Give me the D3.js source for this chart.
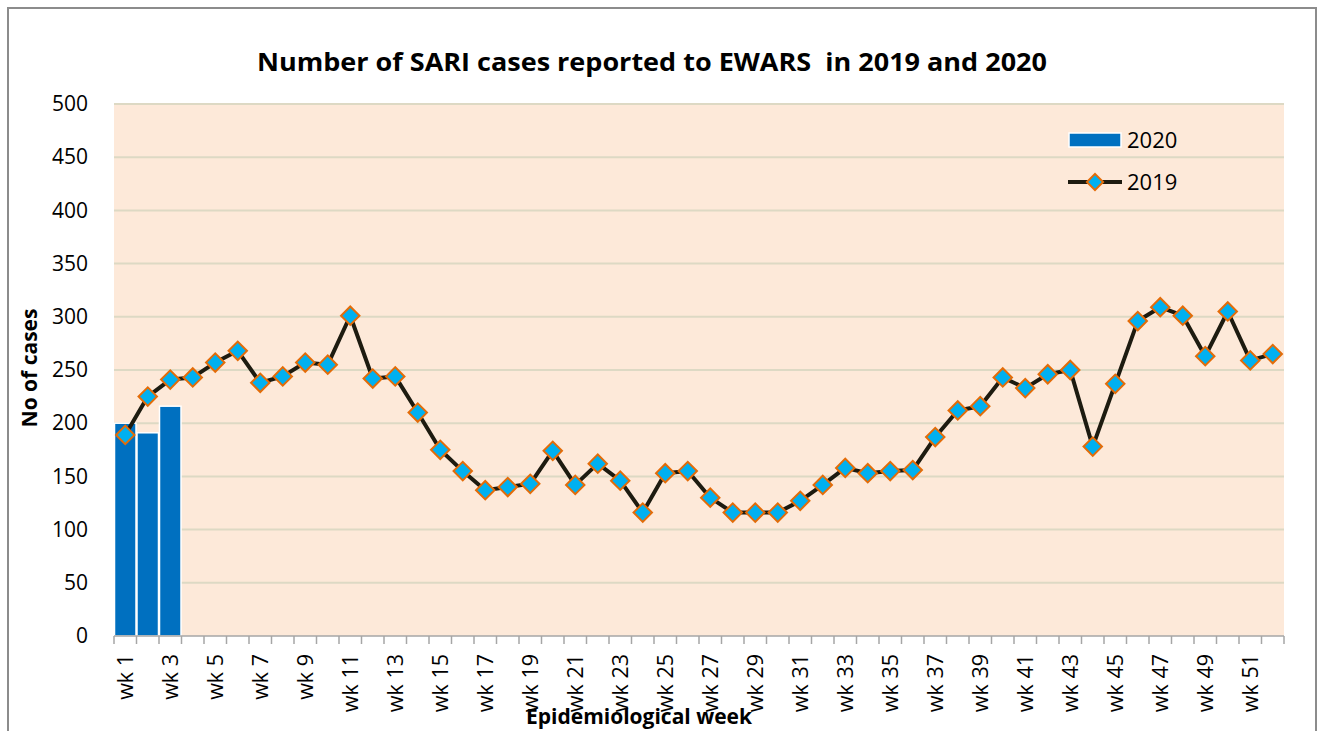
<!DOCTYPE html>
<html><head><meta charset="utf-8">
<script src="https://cdn.jsdelivr.net/npm/d3@7"></script>
<style>body{margin:0;background:#fff}svg{display:block}</style>
</head><body>
<svg id="c" width="1324" height="731"></svg>
<script>
const weeks = d3.range(1, 53).map(i => "wk " + i);
const cases2019 = [189,225,241,243,257,268,238,244,257,255,301,242,244,210,175,155,137,140,143,174,142,162,146,116,153,155,130,116,116,116,127,142,158,153,155,156,187,212,216,243,233,246,250,178,237,296,309,301,263,305,259,265];
const cases2020 = [200,191,216];
const yTicks = [0,50,100,150,200,250,300,350,400,450,500];
const labelWeeks = weeks.filter((d,i) => i % 2 === 0);
const title = "Number of SARI cases reported to EWARS  in 2019 and 2020";

const svg = d3.select("#c");
const m = {l:114, r:1284, t:104, b:636};
const font = "'Open Sans', 'Liberation Sans', sans-serif";

// outer frame
svg.append("rect").attr("x",8).attr("y",8).attr("width",1308).attr("height",740)
  .attr("fill","#fff").attr("stroke","#8c8c8c").attr("stroke-width",2);

const x = d3.scaleBand().domain(weeks).range([m.l, m.r]).paddingInner(0).paddingOuter(0);
const y = d3.scaleLinear().domain([0,500]).range([m.b, m.t]);

// plot background
svg.append("rect").attr("x",m.l).attr("y",m.t).attr("width",m.r-m.l).attr("height",m.b-m.t).attr("fill","#fde9d9");

// gridlines
svg.append("g").selectAll("line").data(yTicks.filter(d=>d>0)).join("line")
  .attr("x1",m.l).attr("x2",m.r).attr("y1",d=>y(d)).attr("y2",d=>y(d))
  .attr("stroke","#ddd9c4").attr("stroke-width",2);

// y axis labels
const yAxis = d3.axisLeft(y).tickValues(yTicks).tickSize(0).tickPadding(26);
const gy = svg.append("g").attr("transform",`translate(${m.l},0)`).call(yAxis);
gy.select(".domain").remove();
gy.selectAll("text").attr("font-family",font).attr("font-size",21).attr("fill","#000");

// bars 2020
svg.append("g").selectAll("rect").data(cases2020).join("rect")
  .attr("x",(d,i)=>x(weeks[i])+0.5).attr("width",x.bandwidth()-1)
  .attr("y",d=>y(d)).attr("height",d=>y(0)-y(d))
  .attr("fill","#0070c0").attr("stroke","#fff").attr("stroke-width",1.5);

// x axis
svg.append("line").attr("x1",m.l).attr("x2",m.r).attr("y1",m.b).attr("y2",m.b).attr("stroke","#a6a6a6").attr("stroke-width",1.5);
svg.append("g").selectAll("line").data(d3.range(0,53)).join("line")
  .attr("x1",i=>m.l+i*x.step()).attr("x2",i=>m.l+i*x.step())
  .attr("y1",m.b).attr("y2",m.b+8).attr("stroke","#a6a6a6").attr("stroke-width",1.5);
const xAxis = d3.axisBottom(x).tickValues(labelWeeks).tickSize(0);
const gx = svg.append("g").attr("transform",`translate(0,${m.b})`).call(xAxis);
gx.select(".domain").remove();
gx.selectAll("text").attr("font-family",font).attr("font-size",21.5).attr("fill","#000")
  .attr("transform","rotate(-90)").attr("text-anchor","end").attr("x",-18).attr("y",0).attr("dy","0.35em");

// line 2019
const cx = d => x(d) + x.bandwidth()/2;
const line = d3.line().x((d,i)=>cx(weeks[i])).y(d=>y(d));
svg.append("path").datum(cases2019).attr("d",line).attr("fill","none")
  .attr("stroke","#1d1b10").attr("stroke-width",4).attr("stroke-linejoin","round");
svg.append("g").selectAll("path").data(cases2019).join("path")
  .attr("transform",(d,i)=>`translate(${cx(weeks[i])},${y(d)}) rotate(45)`)
  .attr("d",d3.symbol().type(d3.symbolSquare).size(170))
  .attr("fill","#00b0f0").attr("stroke","#e36c09").attr("stroke-width",2);

// title
svg.append("text").attr("x",652).attr("y",71).attr("text-anchor","middle")
  .style("white-space","pre").attr("xml:space","preserve")
  .attr("font-family",font).attr("font-weight","bold").attr("font-size",25).attr("fill","#000")
  .attr("textLength",790).attr("lengthAdjust","spacingAndGlyphs").text(title);

// axis titles
svg.append("text").attr("transform","translate(37,368) rotate(-90)").attr("text-anchor","middle")
  .attr("font-family",font).attr("font-weight","bold").attr("font-size",21).text("No of cases");
svg.append("text").attr("x",639).attr("y",724).attr("text-anchor","middle")
  .attr("font-family",font).attr("font-weight","bold").attr("font-size",21).text("Epidemiological week");

// legend
const lg = svg.append("g");
lg.append("rect").attr("x",1069).attr("y",133).attr("width",52).attr("height",14).attr("fill","#0070c0").attr("stroke","#fff").attr("stroke-width",1.5);
lg.append("text").attr("x",1127).attr("y",148).attr("font-family",font).attr("font-size",22).text("2020");
lg.append("line").attr("x1",1068).attr("x2",1122).attr("y1",182).attr("y2",182).attr("stroke","#1d1b10").attr("stroke-width",4);
lg.append("path").attr("transform","translate(1095,182) rotate(45)").attr("d",d3.symbol().type(d3.symbolSquare).size(130))
  .attr("fill","#00b0f0").attr("stroke","#e36c09").attr("stroke-width",2);
lg.append("text").attr("x",1127).attr("y",190).attr("font-family",font).attr("font-size",22).text("2019");
</script>
</body></html>
